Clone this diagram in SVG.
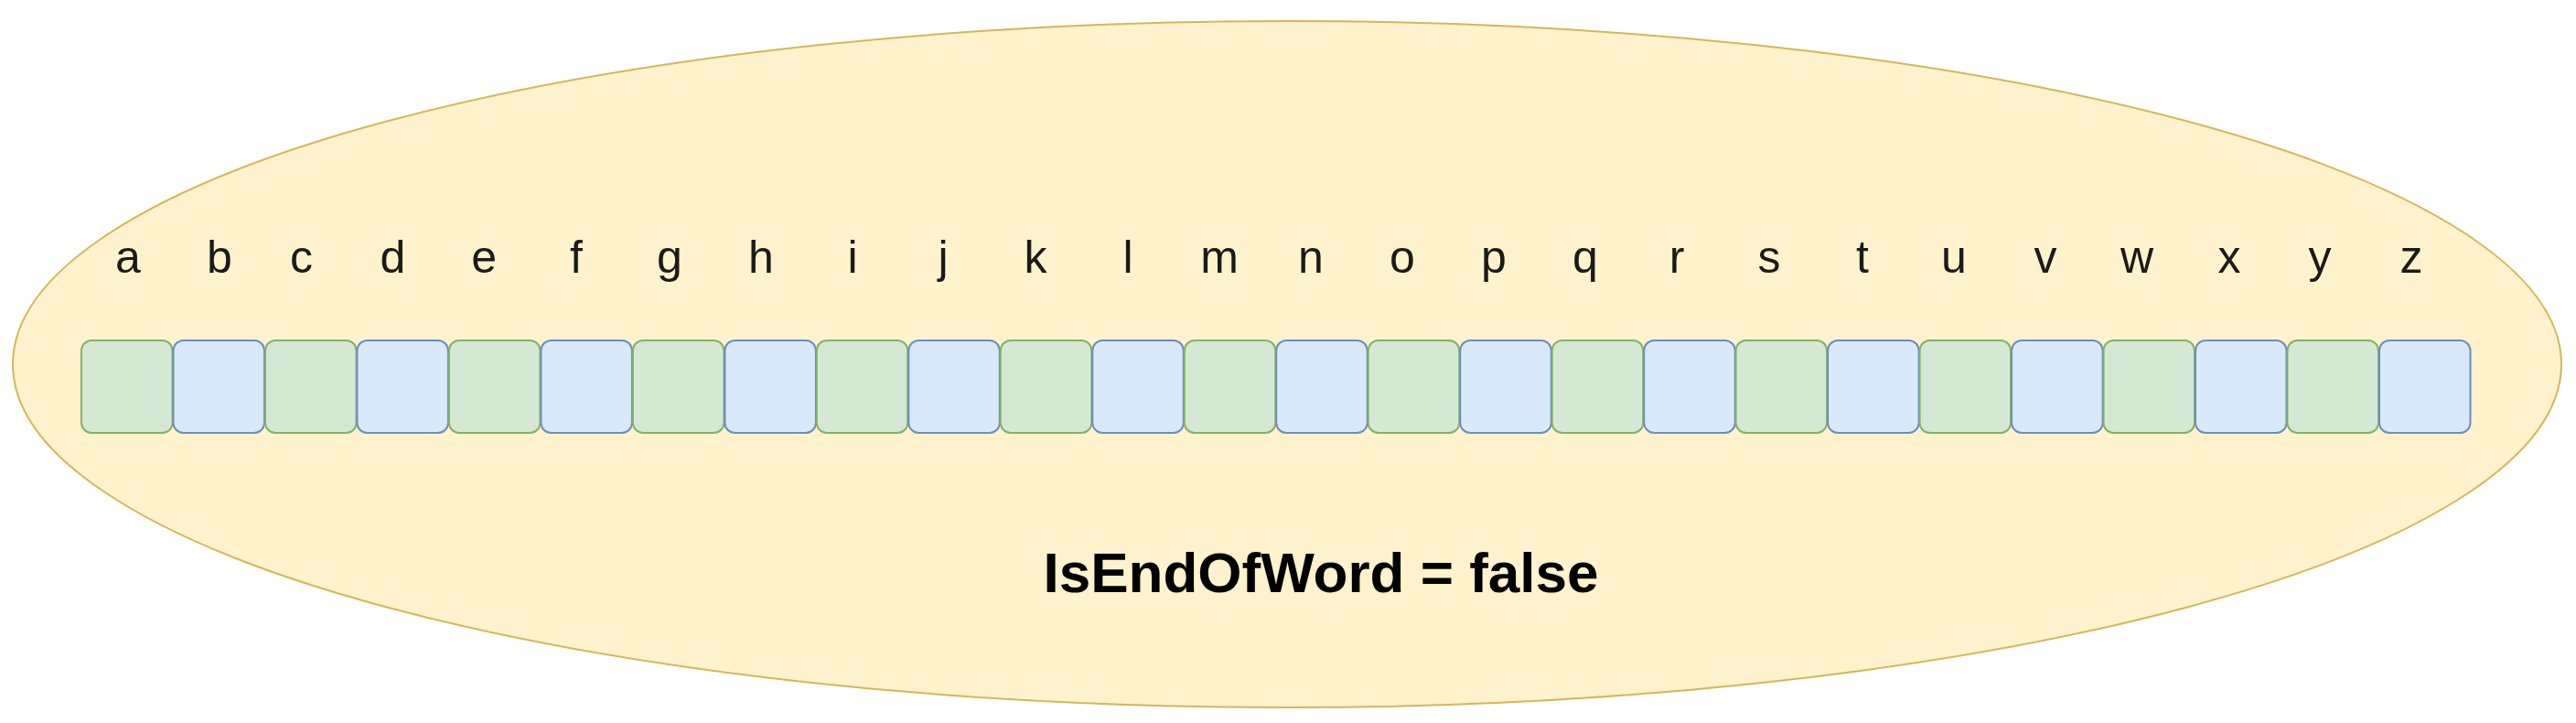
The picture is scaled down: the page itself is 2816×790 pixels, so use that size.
<svg xmlns="http://www.w3.org/2000/svg" width="2816" height="790" viewBox="0 0 2816 790">
<style>
.bg{fill:#ffffff}
.ell{fill:#fff2cc;stroke:#d6b656;stroke-width:2}
.g{fill:#d5e8d4;stroke:#82b366;stroke-width:2}
.b{fill:#dae8fc;stroke:#6c8ebf;stroke-width:2}
.lt{font-family:"Liberation Sans",Arial,sans-serif;font-size:50px;fill:#1a1a1a;text-anchor:middle}
.title{font-family:"Liberation Sans",Arial,sans-serif;font-size:62px;font-weight:bold;fill:#000000;text-anchor:middle}
</style>
<rect class="bg" x="0" y="0" width="2816" height="790"/>
<g id="node-ellipse">
<ellipse class="ell" cx="1407" cy="398" rx="1393" ry="375"/>
<text class="title" x="1444" y="647">IsEndOfWord = false</text>
</g>
<g id="cells">
<g id="cell-a"><rect class="g" x="89" y="372" width="99.5" height="101" rx="11"/><text class="lt" x="140" y="298">a</text></g>
<g id="cell-b"><rect class="b" x="189.5" y="372" width="99.5" height="101" rx="11"/><text class="lt" x="239.8" y="298">b</text></g>
<g id="cell-c"><rect class="g" x="290" y="372" width="99.5" height="101" rx="11"/><text class="lt" x="329.6" y="298">c</text></g>
<g id="cell-d"><rect class="b" x="390.4" y="372" width="99.5" height="101" rx="11"/><text class="lt" x="429.4" y="298">d</text></g>
<g id="cell-e"><rect class="g" x="490.9" y="372" width="99.5" height="101" rx="11"/><text class="lt" x="529.2" y="298">e</text></g>
<g id="cell-f"><rect class="b" x="591.4" y="372" width="99.5" height="101" rx="11"/><text class="lt" x="630" y="298">f</text></g>
<g id="cell-g"><rect class="g" x="691.9" y="372" width="99.5" height="101" rx="11"/><text class="lt" x="732" y="298">g</text></g>
<g id="cell-h"><rect class="b" x="792.4" y="372" width="99.5" height="101" rx="11"/><text class="lt" x="832" y="298">h</text></g>
<g id="cell-i"><rect class="g" x="892.8" y="372" width="99.5" height="101" rx="11"/><text class="lt" x="932" y="298">i</text></g>
<g id="cell-j"><rect class="b" x="993.3" y="372" width="99.5" height="101" rx="11"/><text class="lt" x="1031" y="298">j</text></g>
<g id="cell-k"><rect class="g" x="1093.8" y="372" width="99.5" height="101" rx="11"/><text class="lt" x="1132" y="298">k</text></g>
<g id="cell-l"><rect class="b" x="1194.3" y="372" width="99.5" height="101" rx="11"/><text class="lt" x="1233" y="298">l</text></g>
<g id="cell-m"><rect class="g" x="1294.8" y="372" width="99.5" height="101" rx="11"/><text class="lt" x="1333" y="298">m</text></g>
<g id="cell-n"><rect class="b" x="1395.2" y="372" width="99.5" height="101" rx="11"/><text class="lt" x="1433" y="298">n</text></g>
<g id="cell-o"><rect class="g" x="1495.7" y="372" width="99.5" height="101" rx="11"/><text class="lt" x="1533" y="298">o</text></g>
<g id="cell-p"><rect class="b" x="1596.2" y="372" width="99.5" height="101" rx="11"/><text class="lt" x="1633" y="298">p</text></g>
<g id="cell-q"><rect class="g" x="1696.7" y="372" width="99.5" height="101" rx="11"/><text class="lt" x="1733" y="298">q</text></g>
<g id="cell-r"><rect class="b" x="1797.2" y="372" width="99.5" height="101" rx="11"/><text class="lt" x="1833" y="298">r</text></g>
<g id="cell-s"><rect class="g" x="1897.6" y="372" width="99.5" height="101" rx="11"/><text class="lt" x="1934" y="298">s</text></g>
<g id="cell-t"><rect class="b" x="1998.1" y="372" width="99.5" height="101" rx="11"/><text class="lt" x="2036" y="298">t</text></g>
<g id="cell-u"><rect class="g" x="2098.6" y="372" width="99.5" height="101" rx="11"/><text class="lt" x="2136" y="298">u</text></g>
<g id="cell-v"><rect class="b" x="2199.1" y="372" width="99.5" height="101" rx="11"/><text class="lt" x="2236" y="298">v</text></g>
<g id="cell-w"><rect class="g" x="2299.5" y="372" width="99.5" height="101" rx="11"/><text class="lt" x="2336" y="298">w</text></g>
<g id="cell-x"><rect class="b" x="2400" y="372" width="99.5" height="101" rx="11"/><text class="lt" x="2437" y="298">x</text></g>
<g id="cell-y"><rect class="g" x="2500.5" y="372" width="99.5" height="101" rx="11"/><text class="lt" x="2536" y="298">y</text></g>
<g id="cell-z"><rect class="b" x="2601" y="372" width="99.5" height="101" rx="11"/><text class="lt" x="2636" y="298">z</text></g>
</g>
<g id="connectors"/>
</svg>
